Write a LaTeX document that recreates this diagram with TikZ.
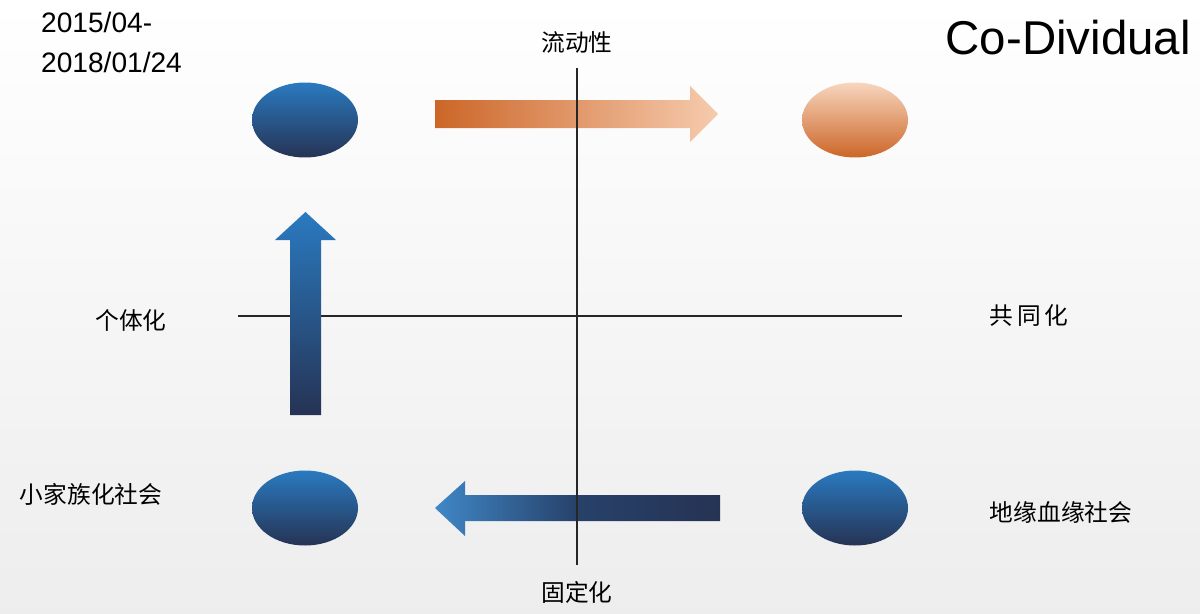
\documentclass[tikz,border=0pt]{standalone}
\usepackage{fontspec}
\setmainfont{Liberation Sans}
\newfontfamily\cjk{Noto Sans CJK SC}
\usetikzlibrary{shapes.geometric}
\definecolor{bluetop}{HTML}{2A7AC0}
\definecolor{navy}{HTML}{263354}
\definecolor{ordark}{HTML}{CC6628}
\definecolor{orlight}{HTML}{F6CBAE}
\begin{document}
\begin{tikzpicture}[x={(0.02cm,0)},y={(0,-0.02cm)},
  blueell/.style={ellipse,minimum width=2.12cm,minimum height=1.5cm,inner sep=0,top color=bluetop,bottom color=navy},
  orell/.style={ellipse,minimum width=2.12cm,minimum height=1.5cm,inner sep=0,top color=orlight!80!white,bottom color=ordark},
  zh/.style={font=\cjk\fontsize{13.5}{16}\selectfont},
  ax/.style={line width=0.6pt,black!85}]
\shade[top color=white,bottom color=black!7] (0,0) rectangle (1200,613);
\useasboundingbox (0,0) rectangle (1200,613);
\coordinate (hl) at (238,316); \coordinate (hr) at (902,316);
\coordinate (vt) at (577,68); \coordinate (vb) at (577,565);
\draw[ax] (hl) -- (hr);
% arrows
\shade[left color=ordark,right color=orlight] (435,100) -- (690,100) -- (690,86) -- (718,114) -- (690,142) -- (690,128) -- (435,128) -- cycle;
\shade[top color=bluetop,bottom color=navy] (290,415) -- (290,240) -- (275,240) -- (305.5,212) -- (336,240) -- (321,240) -- (321,415) -- cycle;
\shade[left color=bluetop!90!white,right color=navy,middle color=navy!80!bluetop] (720,495) -- (465,495) -- (465,481) -- (435,508) -- (465,536) -- (465,521) -- (720,521) -- cycle;
\draw[ax] (vt) -- (vb);
\node[blueell] (a) at (305,120) {};
\node[orell] (b) at (855,120) {};
\node[blueell] (c) at (305,508) {};
\node[blueell] (d) at (855,508) {};
\node[anchor=west,font=\fontsize{16}{19}\selectfont] (t1) at (35,22) {2015/04-};
\node[anchor=west,font=\fontsize{16}{19}\selectfont] (t2) at (35,62) {2018/01/24};
\node[anchor=east,font=\fontsize{27}{30}\selectfont] (t3) at (1197,38) {Co-Dividual};
\node[zh] (l1) at (577,42) {流动性};
\node[zh] (l2) at (577,592) {固定化};
\node[zh] (l3) at (131,320) {个体化};
\node[zh] (l4) at (1029,316) {共\,同\,化};
\node[zh] (l5) at (91,494) {小家族化社会};
\node[zh] (l6) at (1061,512) {地缘血缘社会};
\end{tikzpicture}
\end{document}
